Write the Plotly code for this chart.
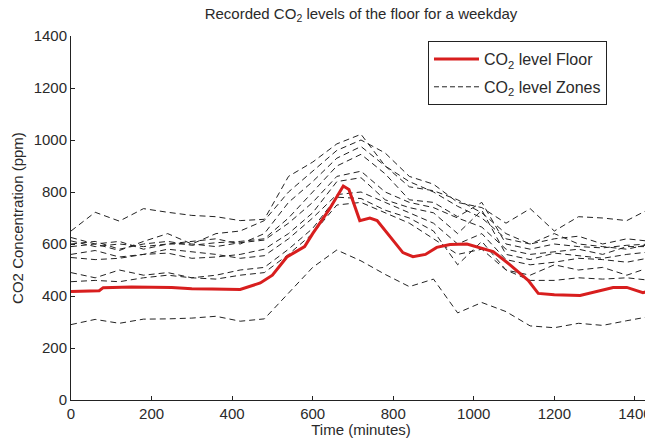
import plotly.graph_objects as go

# Floor CO2 level (red line)
floor_minutes = [0, 70, 80, 150, 250, 300, 350, 420, 470, 500, 536, 580, 600, 640, 676, 690,
                 717, 742, 760, 824, 849, 880, 908, 941, 983, 1048, 1090, 1135, 1160, 1200,
                 1264, 1300, 1346, 1380, 1420, 1440]
floor_ppm = [417, 420, 432, 435, 433, 428, 427, 425, 450, 480, 550, 590, 640, 730, 823, 810,
             690, 700, 690, 567, 551, 560, 587, 598, 600, 571, 520, 460, 410, 405,
             402, 415, 433, 433, 413, 420]

# Zone CO2 levels (dashed lines), hourly samples
zone_minutes = [0, 60, 120, 180, 240, 300, 360, 420, 480, 540, 600, 660, 720,
                780, 840, 900, 960, 1020, 1080, 1140, 1200, 1260, 1320, 1380, 1440]
zone_1 = [650, 722, 688, 736, 722, 710, 705, 690, 695, 860, 915, 985, 1022,
          900, 840, 800, 745, 700, 620, 600, 640, 600, 590, 580, 600]
zone_2 = [625, 600, 575, 610, 640, 600, 640, 650, 690, 800, 880, 960, 1000,
          950, 860, 830, 760, 740, 680, 736, 650, 705, 700, 690, 738]
zone_3 = [612, 590, 600, 590, 600, 610, 620, 600, 640, 760, 840, 930, 975,
          900, 820, 805, 770, 720, 640, 600, 620, 630, 600, 620, 610]
zone_4 = [600, 610, 580, 600, 610, 595, 605, 610, 620, 700, 800, 900, 945,
          870, 770, 760, 705, 760, 600, 580, 600, 590, 585, 595, 600]
zone_5 = [590, 600, 610, 580, 600, 600, 590, 605, 615, 680, 760, 860, 880,
          800, 760, 740, 700, 665, 580, 560, 570, 580, 560, 590, 590]
zone_6 = [560, 575, 550, 560, 565, 545, 550, 560, 580, 640, 720, 840, 855,
          770, 740, 720, 640, 730, 560, 540, 565, 555, 545, 560, 570]
zone_7 = [548, 540, 545, 560, 580, 570, 560, 545, 555, 620, 700, 790, 800,
          760, 720, 680, 600, 640, 540, 520, 530, 545, 540, 530, 548]
zone_8 = [490, 470, 500, 480, 490, 470, 480, 500, 510, 580, 660, 780, 775,
          730, 700, 650, 520, 610, 500, 480, 520, 500, 510, 480, 512]
zone_9 = [455, 460, 455, 470, 480, 470, 465, 480, 490, 560, 640, 750, 760,
          720, 680, 620, 560, 580, 500, 460, 460, 470, 465, 470, 460]
zone_10 = [290, 310, 295, 311, 312, 315, 322, 303, 312, 410, 510, 577, 535,
           483, 436, 465, 335, 375, 340, 285, 278, 295, 287, 305, 322]
zones = [zone_1, zone_2, zone_3, zone_4, zone_5, zone_6, zone_7, zone_8, zone_9, zone_10]

x_ticks = [0, 200, 400, 600, 800, 1000, 1200, 1400]
y_ticks = [0, 200, 400, 600, 800, 1000, 1200, 1400]

FONT = "Liberation Sans, Arial, sans-serif"
TXT = "#2a2a2a"
fig = go.Figure()

for i, z in enumerate(zones):
    fig.add_trace(go.Scatter(
        x=zone_minutes, y=z, mode="lines",
        line=dict(color="#222222", width=1, dash="6px,4px"),
        name="CO<sub>2</sub> level Zones", legendgroup="zones",
        showlegend=False, hoverinfo="skip"))

fig.add_trace(go.Scatter(
    x=floor_minutes, y=floor_ppm, mode="lines",
    line=dict(color="#d81e1e", width=3),
    name="CO<sub>2</sub> level Floor", legendgroup="floor", legendrank=1))

# legend-only entry for zones
fig.add_trace(go.Scatter(
    x=[None], y=[None], mode="lines",
    line=dict(color="#222222", width=1, dash="5px,3px"),
    name="CO<sub>2</sub> level Zones", legendgroup="zones", legendrank=2))

# The page body has an 8px margin, so the figure is sized to fit inside it.
fig.update_layout(
    width=645, height=430,
    margin=dict(l=63, r=2, t=28, b=38, autoexpand=False),
    paper_bgcolor="white", plot_bgcolor="white",
    font=dict(family=FONT, size=15, color=TXT),
    title=dict(text="Recorded CO<sub>2</sub> levels of the floor for a weekday",
               x=0.5, xanchor="center", xref="paper", y=0.986, yanchor="middle",
               automargin=False,
               font=dict(family=FONT, size=15, color=TXT)),
    showlegend=True,
    legend=dict(x=0.6155, xanchor="left", y=0.986, yanchor="top",
                traceorder="grouped",
                bordercolor="#222222", borderwidth=1, bgcolor="white",
                font=dict(family=FONT, size=16, color=TXT),
                tracegroupgap=4, itemwidth=45),
)
fig.update_xaxes(
    range=[0, 1440], tickvals=x_ticks, ticktext=[str(v) for v in x_ticks],
    automargin=False,
    showgrid=False, zeroline=False, showline=True, linecolor="#222222", linewidth=1,
    ticks="inside", ticklen=4, tickcolor="#222222", tickfont=dict(size=15),
    title=dict(text="Time (minutes)", standoff=4, font=dict(family=FONT, size=15)))
fig.update_yaxes(
    range=[0, 1400], tickvals=y_ticks, ticktext=[str(v) for v in y_ticks],
    automargin=False,
    showgrid=False, zeroline=False, showline=True, linecolor="#222222", linewidth=1,
    ticks="inside", ticklen=4, tickcolor="#222222", tickfont=dict(size=15),
    title=dict(text="CO2 Concentration (ppm)", standoff=6, font=dict(family=FONT, size=15)))

fig.write_html("out.html")
